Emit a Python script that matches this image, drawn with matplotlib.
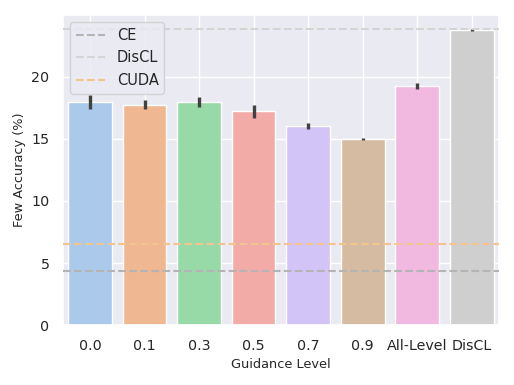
import matplotlib
matplotlib.use('Agg')
import matplotlib.pyplot as plt
import seaborn as sns
import numpy as np

# values
levels = ['0.0', '0.1', '0.3', '0.5', '0.7', '0.9', 'All-Level', 'DisCL']
few_acc = [17.95, 17.75, 17.95, 17.2, 16.0, 15.0, 19.25, 23.75]
few_err = [0.54, 0.34, 0.39, 0.55, 0.23, 0.08, 0.27, 0.08]

ce_acc = 4.35
discl_acc = 23.8
cuda_acc = 6.55

sns.set_theme(style='darkgrid')
plt.rcParams['font.family'] = ['DejaVu Sans']

colors = [sns.desaturate(c, 0.75) for c in sns.color_palette('pastel', len(levels))]

fig, ax = plt.subplots(figsize=(5.14, 3.85), dpi=100)
x = np.arange(len(levels))
ax.bar(x, few_acc, width=0.8, color=colors, edgecolor='white', linewidth=1.0, zorder=2)
ax.errorbar(x, few_acc, yerr=few_err, fmt='none', ecolor='#424242', elinewidth=2.4, capsize=0, zorder=3)

ax.axhline(ce_acc, color='#b4b4b4', linestyle='--', linewidth=1.5, label='CE', zorder=4)
ax.axhline(discl_acc, color='#d4d4d4', linestyle='--', linewidth=1.5, label='DisCL', zorder=4)
ax.axhline(cuda_acc, color='#f2c48e', linestyle='--', linewidth=1.5, label='CUDA', zorder=4)

ax.set_xticks(x)
ax.set_xticklabels(levels, fontsize=10.3)
ax.tick_params(axis='y', labelsize=10.3)
ax.set_xlim(-0.5, len(levels) - 0.5)
ax.set_ylim(0, 24.95)
ax.set_xlabel('Guidance Level', fontsize=9.3)
ax.set_ylabel('Few Accuracy (%)', fontsize=9.3)
ax.legend(loc='upper left', fontsize=10.5)

fig.subplots_adjust(left=0.122, right=0.971, top=0.961, bottom=0.155)
fig.savefig('out.png', dpi=100)
